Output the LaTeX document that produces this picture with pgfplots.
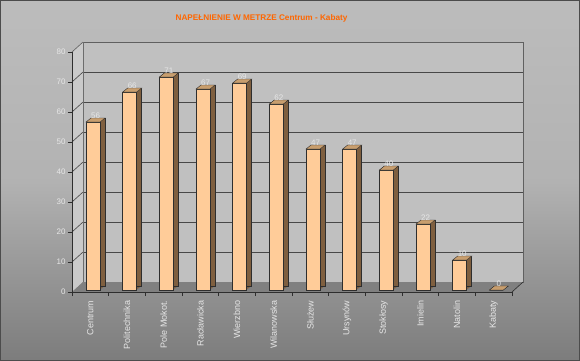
\documentclass[border=0pt]{standalone}
\usepackage{fontspec}
\setmainfont{Liberation Sans}
\usepackage{pgfplots}
\usepackage{pgfplotstable}
\pgfplotsset{compat=1.18}
\definecolor{bgtop}{HTML}{BCBCBC}
\definecolor{bgbot}{HTML}{7C7C7C}
\definecolor{wallback}{HTML}{C0C0C0}
\definecolor{wallleft}{HTML}{CACACA}
\definecolor{floorc}{HTML}{808080}
\definecolor{gridc}{HTML}{484848}
\definecolor{front}{HTML}{FFCC99}
\definecolor{side}{HTML}{7F5F3F}
\definecolor{topc}{HTML}{C89E6E}
\definecolor{edge}{HTML}{2E2E2E}
\definecolor{lbl}{HTML}{E6E6E6}
\definecolor{titlec}{HTML}{FF6600}

\pgfdeclareplotmark{topface}{%
  \pgfpathmoveto{\pgfpoint{-7bp}{0bp}}%
  \pgfpathlineto{\pgfpoint{7bp}{0bp}}%
  \pgfpathlineto{\pgfpoint{12bp}{4bp}}%
  \pgfpathlineto{\pgfpoint{-2bp}{4bp}}%
  \pgfpathclose
  \pgfusepathqfillstroke}

\pgfplotstableread{
x y
0 56
1 66
2 71
3 67
4 69
5 62
6 47
7 47
8 40
9 22
10 10
11 0
}\data

\begin{document}
\begin{tikzpicture}
\shade[top color=bgtop, bottom color=bgbot, middle color=bgtop!85!bgbot] (0,0) rectangle (580bp,361bp);
\draw[gray!60!black, line width=0.6bp] (0.3bp,0.3bp) rectangle (579.7bp,360.7bp);
\node[font=\bfseries\fontsize{8.2bp}{10bp}\selectfont, text=titlec, anchor=center] at (261.5bp,343bp) {NAPEŁNIENIE W METRZE Centrum - Kabaty};

% back wall
\begin{axis}[at={(83bp,79bp)}, anchor=south west, scale only axis,
  width=440bp, height=240bp, xmin=-0.5, xmax=11.5, ymin=0, ymax=80,
  xtick=\empty, ytick={0,10,...,80}, yticklabels={}, major tick length=0pt,
  ymajorgrids, grid style={gridc, line width=0.7bp},
  axis background/.style={fill=wallback},
  axis line style={draw=gray!75!black, line width=0.6bp}]
\addplot[draw=none] coordinates {(0,0)};
\end{axis}

% front axis
\begin{axis}[at={(72bp,69bp)}, anchor=south west, scale only axis,
  width=440bp, height=240bp, xmin=-0.5, xmax=11.5, ymin=0, ymax=80,
  clip=false, axis on top,
  axis x line*=bottom, axis y line*=left,
  axis line style={draw=edge, line width=0.7bp},
  ytick={0,10,...,80}, tick align=outside, major tick length=4bp,
  tick style={draw=edge, line width=0.6bp},
  xtick={0,...,11},
  xticklabels={Centrum,Politechnika,Pole Mokot.,Racławicka,Wierzbno,Wilanowska,Służew,Ursynów,Stokłosy,Imielin,Natolin,Kabaty},
  x tick style={draw=none},
  minor xtick={-0.5,0.5,...,11.5},
  minor tick length=4bp,
  minor x tick style={draw=edge, line width=0.6bp},
  x tick label style={rotate=90, anchor=east, font=\fontsize{9bp}{10bp}\selectfont, text=lbl, yshift=0bp, xshift=-1bp},
  y tick label style={font=\fontsize{8bp}{9bp}\selectfont, text=lbl, xshift=1bp},
  /pgf/number format/assume math mode=true,
  ]
% left wall
\addplot[fill=wallleft, draw=none] coordinates {(-0.5,0) (-0.5,80) (-0.2,83.33) (-0.2,3.33)} -- cycle;
% floor
\addplot[fill=floorc, draw=none] coordinates {(-0.5,0) (11.5,0) (11.8,3.33) (-0.2,3.33)} -- cycle;
\addplot[draw=edge, line width=0.6bp] coordinates {(11.5,0) (11.8,3.33)};
% left wall diagonals
\addplot[draw=gridc, line width=0.6bp] coordinates {(-0.5,10) (-0.2,13.33)};
\addplot[draw=gridc, line width=0.6bp] coordinates {(-0.5,20) (-0.2,23.33)};
\addplot[draw=gridc, line width=0.6bp] coordinates {(-0.5,30) (-0.2,33.33)};
\addplot[draw=gridc, line width=0.6bp] coordinates {(-0.5,40) (-0.2,43.33)};
\addplot[draw=gridc, line width=0.6bp] coordinates {(-0.5,50) (-0.2,53.33)};
\addplot[draw=gridc, line width=0.6bp] coordinates {(-0.5,60) (-0.2,63.33)};
\addplot[draw=gridc, line width=0.6bp] coordinates {(-0.5,70) (-0.2,73.33)};
\addplot[draw=gray!75!black, line width=0.6bp] coordinates {(-0.5,80) (-0.2,83.33)};
% bar depth (side)
\pgfplotsinvokeforeach{0,1,2,3,4,5}{
\addplot[ybar, bar shift=0pt, bar width=14bp, fill=side, draw=none,
  xshift={2.7bp+#1bp}, yshift={2bp+0.8*#1bp}] table[x=x,y=y] {\data};
}
\addplot[ybar, bar shift=0pt, bar width=14bp, fill=none, draw=edge, line width=0.5bp,
  xshift=7.7bp, yshift=6bp] table[x=x,y=y] {\data};
% top faces
\addplot[only marks, mark=topface, mark options={fill=topc, draw=edge, line width=0.4bp},
  xshift=2.7bp, yshift=2bp] table[x=x,y=y] {\data};
% front faces
\addplot[ybar, bar shift=0pt, bar width=14bp, fill=front, draw=edge, line width=0.6bp,
  xshift=2.7bp, yshift=2bp,
  nodes near coords, every node near coord/.append style={font=\fontsize{8bp}{9bp}\selectfont, text=lbl, xshift=2.5bp, yshift=2.5bp, inner sep=1bp}] table[x=x,y=y] {\data};
\end{axis}
\pgfresetboundingbox
\path (0,0) rectangle (580bp,361bp);
\end{tikzpicture}
\end{document}
